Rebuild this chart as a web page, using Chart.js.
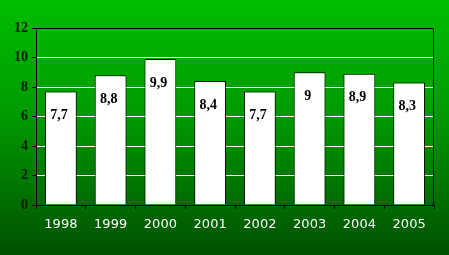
<!DOCTYPE html>
<html>
<head>
<meta charset="utf-8">
<script src="https://cdn.jsdelivr.net/npm/chart.js@4"></script>
<style>
  html, body { margin: 0; padding: 0; }
  body {
    width: 449px; height: 255px; overflow: hidden;
    background: linear-gradient(to bottom, #00be00 0%, #009a00 45%, #006c00 80%, #005000 100%);
  }
  #wrap { width: 449px; height: 255px; position: relative; }
</style>
</head>
<body>
<div id="wrap"><canvas id="grafica" width="449" height="255"></canvas></div>
<script>
const anios = ['1998', '1999', '2000', '2001', '2002', '2003', '2004', '2005'];
const valores = [7.7, 8.8, 9.9, 8.4, 7.7, 9, 8.9, 8.3];
const ticksY = [0, 2, 4, 6, 8, 10, 12];

// etiquetas dentro de las barras + borde superior/derecho del area
const etiquetas = {
    id: 'etiquetas',
    afterDatasetsDraw(chart) {
        const ctx = chart.ctx;
        const meta = chart.getDatasetMeta(0);
        ctx.save();
        ctx.font = 'bold 14px "Liberation Serif", "Times New Roman", serif';
        ctx.fillStyle = '#000';
        ctx.textAlign = 'center';
        ctx.textBaseline = 'middle';
        meta.data.forEach((bar, i) => {
            const txt = String(valores[i]).replace('.', ',');
            ctx.fillText(txt, bar.x - 2, bar.y + 24);
        });
        const a = chart.chartArea;
        ctx.strokeStyle = '#000';
        ctx.lineWidth = 1;
        ctx.beginPath();
        ctx.moveTo(a.left, a.top + 0.5);
        ctx.lineTo(a.right - 0.5, a.top + 0.5);
        ctx.lineTo(a.right - 0.5, a.bottom);
        ctx.stroke();
        ctx.restore();
    }
};

const g = document.getElementById('grafica').getContext('2d');
const grafica = new Chart(g, {
    type: 'bar',
    data: {
        labels: anios,
        datasets: [{
            data: valores,
            backgroundColor: '#ffffff',
            borderColor: '#000000',
            borderWidth: 1,
            categoryPercentage: 1,
            barPercentage: 0.64
        }]
    },
    options: {
        responsive: false,
        animation: false,
        layout: { padding: { left: 0, top: 28, right: 15, bottom: 0 } },
        plugins: { legend: { display: false }, tooltip: { enabled: false } },
        scales: {
            x: {
                afterFit: (s) => { s.height = 50; },
                grid: {
                    offset: true,
                    drawOnChartArea: false,
                    tickLength: 4,
                    tickColor: '#000'
                },
                border: { color: '#000', width: 1 },
                ticks: {
                    color: '#ffffff',
                    font: { family: '"DejaVu Sans", Verdana, sans-serif', size: 13 },
                    padding: 8,
                    maxRotation: 0
                }
            },
            y: {
                min: 0,
                max: 12,
                afterFit: (s) => { s.width = 36; },
                afterBuildTicks: (s) => { s.ticks = ticksY.map(v => ({ value: v })); },
                grid: {
                    color: (c) => (c.tick && (c.tick.value === 0 || c.tick.value === 12)) ? 'rgba(0,0,0,0)' : '#ffffff',
                    tickColor: '#000',
                    tickLength: 4
                },
                border: { color: '#000', width: 1 },
                ticks: {
                    color: '#001a00',
                    font: { family: '"Liberation Serif", "Times New Roman", serif', size: 14, weight: 'bold' },
                    padding: 4
                }
            }
        }
    },
    plugins: [etiquetas]
});
</script>
</body>
</html>
